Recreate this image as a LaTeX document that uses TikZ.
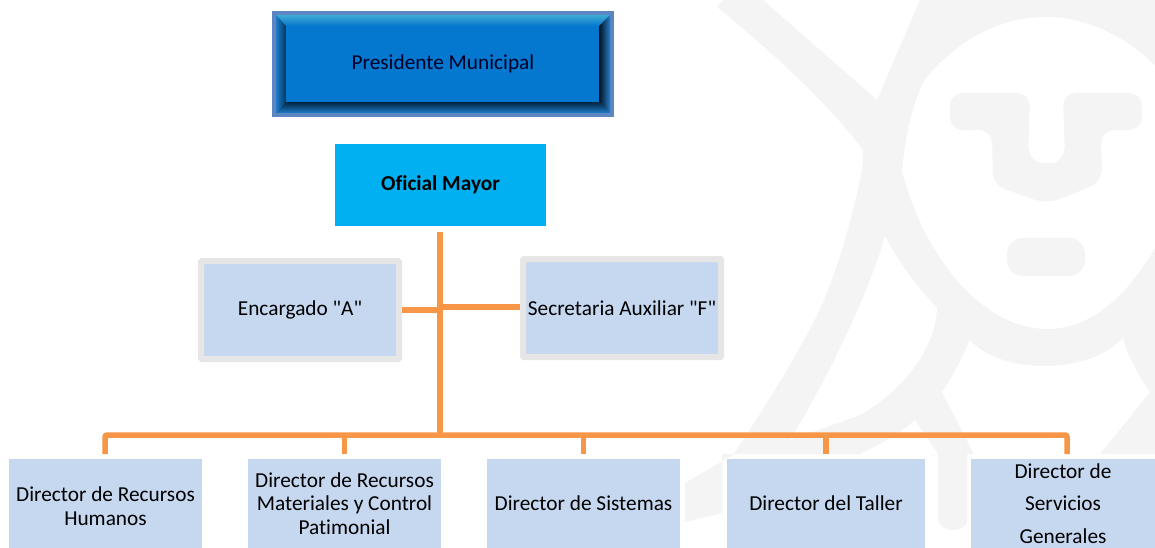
\documentclass[tikz,border=0pt]{standalone}
\usepackage{fontspec}
\setmainfont{Carlito}
\newfontfamily\carl[Ligatures=NoCommon]{Carlito}
\definecolor{wm}{HTML}{F4F4F4}
\definecolor{boxblue}{HTML}{C6D8F0}
\definecolor{boxedge}{HTML}{E6E6E6}
\definecolor{conn}{HTML}{F79646}
\definecolor{sky}{HTML}{00B0F0}
\definecolor{front}{HTML}{0477CF}
\definecolor{rimblue}{HTML}{5B86C2}
\newcommand{\lblfont}{\carl\fontsize{21.3}{23.4}\selectfont}
\tikzset{
 x=1pt,y=-1pt,
 label text/.style={font=\lblfont,text=black,align=center,inner sep=0pt},
 wmfill/.style={fill=wm,draw=none},
 connector/.style={draw=conn,line width=5.5pt},
 flatbox/.style={fill=boxblue,draw=none,minimum width=193pt,minimum height=89pt,inner sep=0pt,align=center,font=\lblfont},
 edgebox/.style={fill=boxblue,draw=boxedge,line width=6pt,rounded corners=1pt,minimum width=198pt,minimum height=98pt,inner sep=0pt,align=center,font=\lblfont}
}
\begin{document}
\begin{tikzpicture}
\useasboundingbox (0,0) rectangle (1155,548);
\fill[white] (0,0) rectangle (1155,548);
% watermark base
\fill[wmfill] (717,7) -- (723,0) -- (763,0) -- (877,100) -- (920,0) -- (1155,0) -- (1155,454) -- (967,454) -- (967,520) .. controls (967,527) and (960,530) .. (952,530) .. controls (944,530) and (938,525) .. (938,518) -- (938,454) -- (722,454) -- (722,513) -- (685,522) -- (685,483) -- (733,455) .. controls (770,400) and (800,350) .. (817,315) .. controls (835,280) and (855,210) .. (863,164) -- (863,150) .. controls (830,105) and (770,50) .. (717,7) -- cycle;
% head
\fill[white] (902,171) .. controls (905,140) and (912,100) .. (927,77) .. controls (950,50) and (990,17) .. (1047,17) .. controls (1090,17) and (1130,40) .. (1155,66) -- (1155,248) .. controls (1130,290) and (1095,329) .. (1047,329) .. controls (985,329) and (925,260) .. (902,171) -- cycle;
% wedge beside the head
\fill[white] (885,236) .. controls (870,290) and (830,375) .. (790,440) -- (860,415) .. controls (895,395) and (935,355) .. (937,308) .. controls (920,290) and (900,265) .. (885,236) -- cycle;
% below the head
\fill[white] (970,340) .. controls (1000,375) and (1090,375) .. (1123,338) .. controls (1128,358) and (1140,378) .. (1150,392) -- (1100,454) -- (974,454) -- (942,392) .. controls (952,378) and (962,358) .. (970,340) -- cycle;
\fill[white] (915,420) -- (938,454) -- (860,454) .. controls (880,445) and (900,433) .. (915,420) -- cycle;
% face
\fill[wmfill,rounded corners=13pt] (950,93) -- (1030,93) -- (1028,160) -- (1047,165) -- (1065,160) -- (1063,93) -- (1142,93) -- (1142,130) -- (1101,130) -- (1102,182) -- (1047,204) -- (993,185) -- (992,130) -- (950,130) -- cycle;
\fill[wmfill,rounded corners=16pt] (1007,238) rectangle (1085,276);
% top box
\fill[rimblue] (272,11) rectangle (614,117);
\shade[top color=rimblue!70!cyan,bottom color=front] (276,15) -- (610,15) -- (599,26) -- (286,26) -- cycle;
\shade[left color=front!70!rimblue,right color=front!45!black] (276,15) -- (286,26) -- (286,102) -- (276,113) -- cycle;
\shade[left color=front!15!black,right color=front!60!rimblue] (610,15) -- (599,26) -- (599,102) -- (610,113) -- cycle;
\shade[top color=front!30!black,bottom color=front!70!rimblue] (276,113) -- (286,102) -- (599,102) -- (610,113) -- cycle;
\fill[front] (286,26) rectangle (599,102);
\node[label text,text=black!85!blue] (pres) at (443,63.5) {Presidente Municipal};
\node[fill=sky,minimum width=211pt,minimum height=82pt,inner sep=0pt,font=\carl\fontsize{21.3}{23}\selectfont\bfseries] (of) at (440.5,185) {Oficial Mayor};
\node[edgebox] (enc) at (300,310) {Encargado "A"};
\node[edgebox] (sec) at (622,308) {Secretaria Auxiliar "F"};
\node[flatbox] (d1) at (105.5,503.5) {\rule{0pt}{20pt}Director de Recursos\\Humanos};
\node[flatbox] (d2) at (344.5,503.5) {Director de Recursos\\Materiales y Control\\Patimonial};
\node[flatbox] (d3) at (583.5,503.5) {Director de Sistemas};
\node[flatbox,minimum width=198pt] (d4) at (826,503.5) {Director del Taller};
\node[fill=boxblue,minimum width=184pt,minimum height=89pt,inner sep=0pt,align=center,font=\carl\fontsize{21.3}{32.5}\selectfont] (d5) at (1063,503.5) {Director de\\Servicios\\Generales};
% connectors
\coordinate (v0) at (440,232);
\coordinate (v1) at (440,435);
\coordinate (b1) at (105,435);
\coordinate (b5) at (1067,435);
\coordinate (ha) at (440,310);
\coordinate (hb) at (440,307);
\draw[connector,line width=6.5pt] (v0) -- (v1);
\draw[connector] (ha) -- (enc.east |- ha);
\draw[connector] (hb) -- (sec.west |- hb);
\draw[connector,rounded corners=2pt] (105,454) -- (b1) -- (b5) -- (1067,454);
\draw[connector] (344.5,435) -- (344.5,454);
\draw[connector] (583.5,435) -- (583.5,454);
\draw[connector] (826,435) -- (826,454);
\end{tikzpicture}
\end{document}
